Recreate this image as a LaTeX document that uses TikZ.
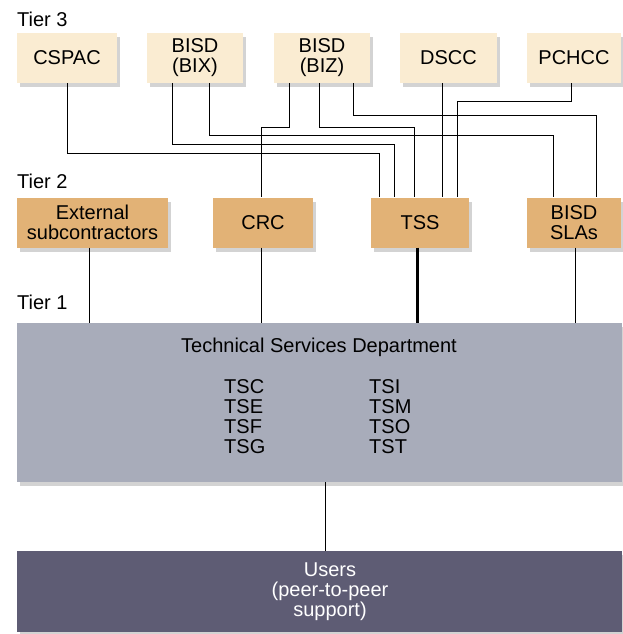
\documentclass[tikz,border=0pt]{standalone}
\usepackage{fontspec}
\setmainfont{Liberation Sans}
\usetikzlibrary{shadows}
\definecolor{tierthreefill}{RGB}{250,236,210}
\definecolor{tiertwofill}{RGB}{226,178,118}
\definecolor{tsdfill}{RGB}{168,172,186}
\definecolor{usersfill}{RGB}{94,92,116}

\begin{document}
\begin{tikzpicture}[x=1pt,y=-1pt,
  font=\fontsize{20}{20}\selectfont,
  boxshadow/.style={drop shadow={shadow xshift=3pt,shadow yshift=-4pt,opacity=0.35}},
  tierthree/.style={boxshadow,fill=tierthreefill,minimum height=50pt,inner sep=0pt,align=center},
  tiertwo/.style={boxshadow,fill=tiertwofill,minimum height=50pt,inner sep=0pt,align=center},
  tierlabel/.style={anchor=west,inner sep=0pt},
  wire/.style={line width=0.9pt},
  trunk/.style={line width=3pt}]
  \useasboundingbox (0,0) rectangle (623,634);

  % tier labels
  \node[tierlabel] (tier3) at (17,19) {Tier 3};
  \node[tierlabel] (tier2) at (17,181) {Tier 2};
  \node[tierlabel] (tier1) at (17,302) {Tier 1};

  % tier 3
  \node[tierthree,minimum width=100pt] (cspac) at (67,58) {CSPAC};
  \node[tierthree,minimum width=96pt] (bix) at (195,58) {BISD\\(BIX)};
  \node[tierthree,minimum width=96pt] (biz) at (322,58) {BISD\\(BIZ)};
  \node[tierthree,minimum width=97pt] (dscc) at (448.5,58) {DSCC};
  \node[tierthree,minimum width=94pt] (pchcc) at (574,58) {PCHCC};

  % tier 2
  \node[tiertwo,minimum width=151pt] (ext) at (92.5,222.5) {External\\subcontractors};
  \node[tiertwo,minimum width=100pt] (crc) at (263,222.5) {CRC};
  \node[tiertwo,minimum width=98pt] (tss) at (420,222.5) {TSS};
  \node[tiertwo,minimum width=94pt] (slas) at (574,222.5) {BISD\\SLAs};

  % tier 1 and users
  \node[boxshadow,fill=tsdfill,minimum width=605pt,minimum height=159pt,inner sep=0pt] (tsd) at (319.5,402.5) {};
  \node (tsdtitle) at (319,347) {Technical Services Department};
  \node[anchor=west,align=left,inner sep=0pt] (tsdleft) at (224,417) {TSC\\TSE\\TSF\\TSG};
  \node[anchor=west,align=left,inner sep=0pt] (tsdright) at (369,417) {TSI\\TSM\\TSO\\TST};
  \node[boxshadow,fill=usersfill,minimum width=605pt,minimum height=81pt,inner sep=0pt] (users) at (319.5,591.5) {};
  \node[white,align=center,inner sep=0pt] (userstext) at (330,592) {Users\\(peer-to-peer\\support)};

  % tier 3 to tier 2
  \draw[wire] (cspac.south) -- ++(0,70) -| ([xshift=-41pt]tss.north);
  \draw[wire] ([xshift=-23pt]bix.south) -- ++(0,61) -| ([xshift=-26pt]tss.north);
  \draw[wire] ([xshift=14pt]bix.south) -- ++(0,52) -| ([xshift=-21pt]slas.north);
  \draw[wire] ([xshift=-33pt]biz.south) -- ++(0,44) -| ([xshift=-2pt]crc.north);
  \draw[wire] ([xshift=-3pt]biz.south) -- ++(0,44) -| ([xshift=-6pt]tss.north);
  \draw[wire] ([xshift=31pt]biz.south) -- ++(0,32) -| ([xshift=22pt]slas.north);
  \draw[wire] ([xshift=-6.5pt]dscc.south) -- ([xshift=22pt]tss.north);
  \draw[wire] ([xshift=-3pt]pchcc.south) -- ++(0,18) -| ([xshift=37pt]tss.north);

  % tier 2 to tier 1
  \draw[wire] ([xshift=-3.5pt]ext.south) -- ([xshift=-230.5pt]tsd.north);
  \draw[wire] ([xshift=-2pt]crc.south) -- ([xshift=-58.5pt]tsd.north);
  \draw[trunk] ([xshift=-3pt]tss.south) -- ([xshift=97.5pt]tsd.north);
  \draw[wire] ([xshift=1pt]slas.south) -- ([xshift=255.5pt]tsd.north);
  \draw[wire] ([xshift=5.5pt]tsd.south) -- ([xshift=5.5pt]users.north);

\end{tikzpicture}
\end{document}
